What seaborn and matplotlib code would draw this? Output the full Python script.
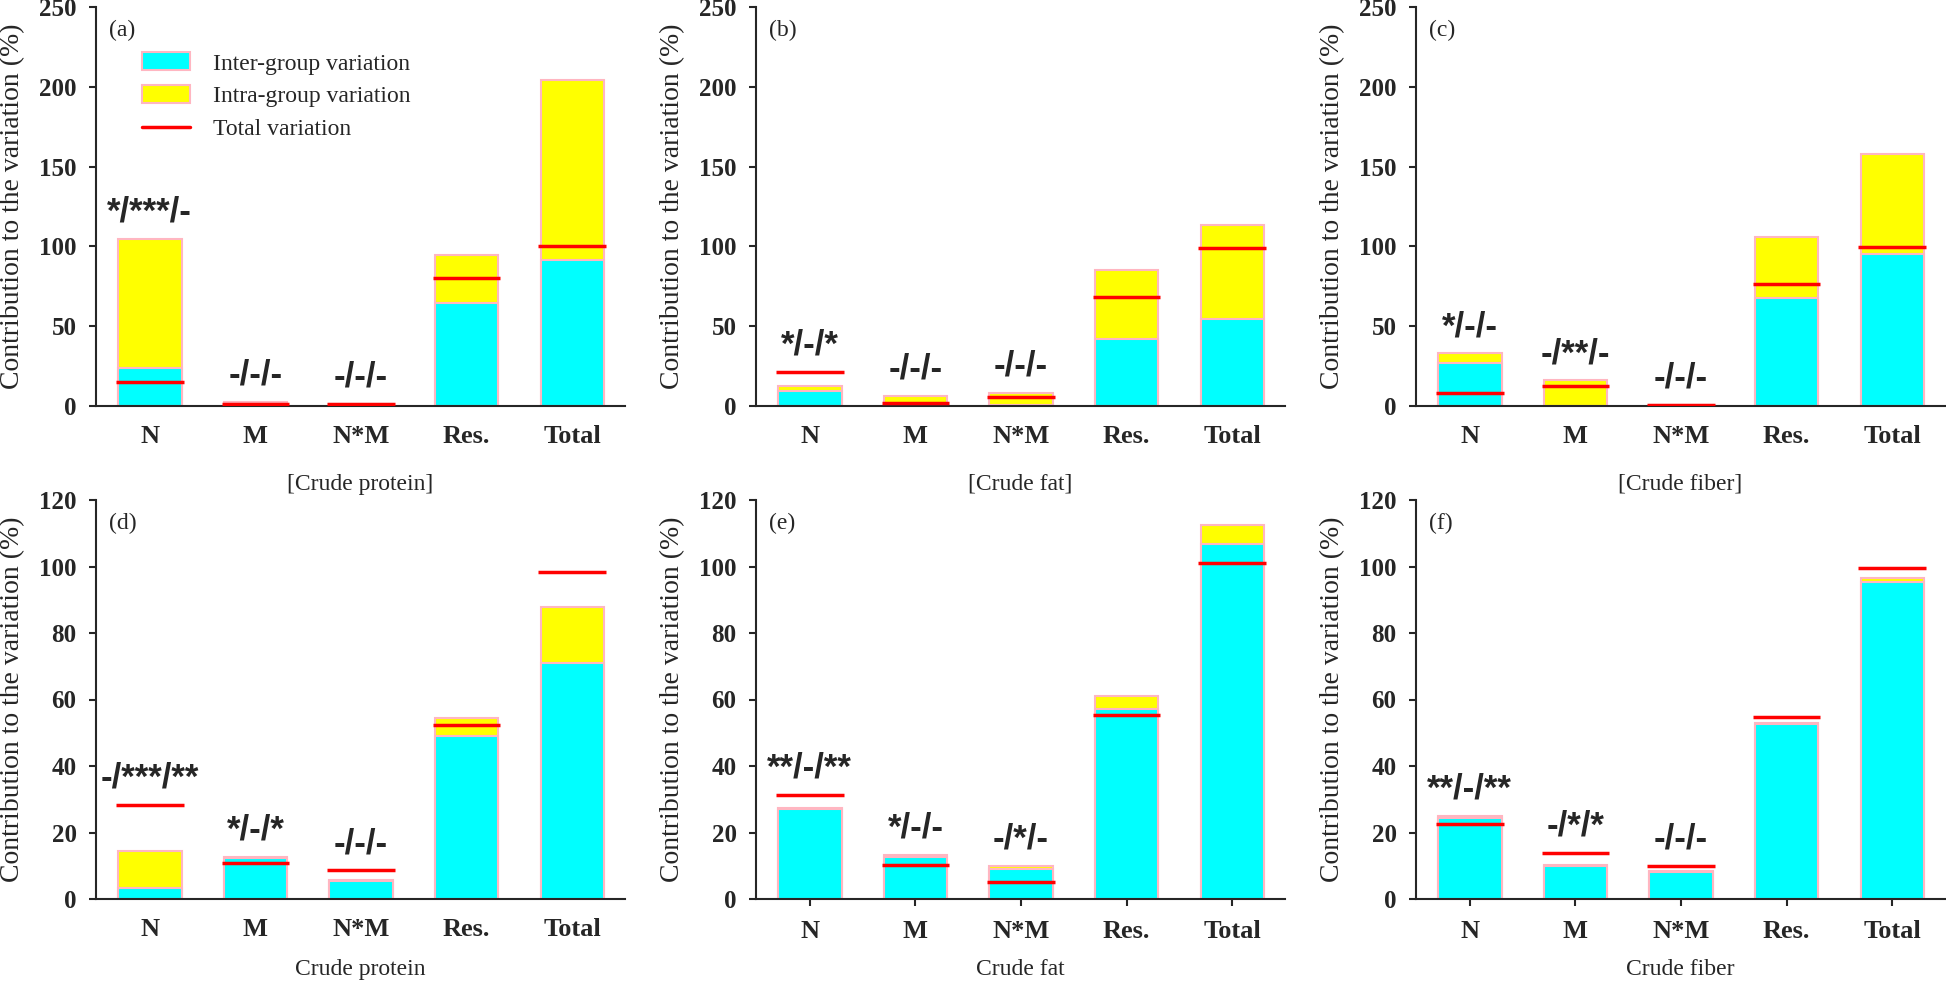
import numpy as np
import pandas as pd
import seaborn as sns
import matplotlib.pyplot as plt
from matplotlib.patches import Patch
from matplotlib.lines import Line2D

# categories on the x axis
cats = ['N', 'M', 'N*M', 'Res.', 'Total']

# inter-group part (cyan), top of the stacked bar (yellow), total variation (red line)
inter_a = [23.6, 0.3, 0.3, 64.4, 91.6]
top_a = [104.5, 2.7, 1.2, 94.5, 204.0]
red_a = [15.3, 1.5, 1.0, 80.3, 100.3]

inter_b = [9.2, 0.3, 0.5, 42.2, 54.3]
top_b = [12.5, 6.5, 8.4, 84.9, 113.5]
red_b = [21.5, 1.7, 5.9, 68.1, 98.9]

inter_c = [27.2, 0.3, 0.3, 67.7, 95.3]
top_c = [33.0, 16.1, 0.8, 106.0, 157.6]
red_c = [8.2, 12.5, 0.6, 76.5, 99.5]

inter_d = [3.4, 12.2, 5.4, 49.0, 71.0]
top_d = [14.5, 12.6, 5.8, 54.5, 87.9]
red_d = [28.4, 10.9, 8.6, 52.2, 98.3]

inter_e = [27.2, 12.6, 8.9, 57.0, 106.7]
top_e = [27.5, 13.2, 10.0, 61.1, 112.5]
red_e = [31.4, 10.3, 5.2, 55.3, 101.1]

inter_f = [24.5, 9.9, 8.1, 52.5, 95.3]
top_f = [24.9, 10.2, 8.3, 53.0, 96.6]
red_f = [22.7, 13.8, 10.0, 54.7, 99.4]

# significance labels for N, M, N*M
sig_a = ['*/***/-', '-/-/-', '-/-/-']
sig_b = ['*/-/*', '-/-/-', '-/-/-']
sig_c = ['*/-/-', '-/**/-', '-/-/-']
sig_d = ['-/***/**', '*/-/*', '-/-/-']
sig_e = ['**/-/**', '*/-/-', '-/*/-']
sig_f = ['**/-/**', '-/*/*', '-/-/-']

letters = ['(a)', '(b)', '(c)', '(d)', '(e)', '(f)']
xlabels = ['[Crude protein]', '[Crude fat]', '[Crude fiber]',
           'Crude protein', 'Crude fat', 'Crude fiber']

CYAN = '#00FFFF'
YELLOW = '#FFFF00'
RED = '#FF0000'
PINK = '#FFB6C1'

sns.set_style('ticks')
plt.rcParams['font.family'] = ['Liberation Serif', 'DejaVu Serif']


def draw_panel(ax, inter, top, red, sig, ymax, step, letter, xlabel, xticks_marks):
    df = pd.DataFrame({'cat': cats, 'inter': inter, 'top': top})
    sns.barplot(data=df, x='cat', y='top', order=cats, color=YELLOW, width=0.6,
                edgecolor=PINK, linewidth=1.5, saturation=1, errorbar=None, ax=ax)
    sns.barplot(data=df, x='cat', y='inter', order=cats, color=CYAN, width=0.6,
                edgecolor=PINK, linewidth=1.5, saturation=1, errorbar=None, ax=ax)
    pos = np.arange(len(cats))
    ax.hlines(red, pos - 0.32, pos + 0.32, color=RED, linewidth=2.5, zorder=5)

    for i, s in enumerate(sig):
        y = max(top[i], red[i]) + 0.067 * ymax
        ax.text(pos[i], y, s, ha='center', va='center', fontsize=25,
                fontweight='bold', family='Liberation Sans')

    ax.set_xlim(-0.51, 4.5)
    ax.set_ylim(0, ymax)
    ax.set_yticks(np.arange(0, ymax + 1, step))
    ax.tick_params(axis='y', direction='out', length=5, width=1.5, labelsize=18, pad=9)
    ax.tick_params(axis='x', length=5 if xticks_marks else 0, width=1.5,
                   labelsize=19, pad=10 if xticks_marks else 14)
    for lab in ax.get_xticklabels() + ax.get_yticklabels():
        lab.set_fontweight('bold')
    sns.despine(ax=ax)
    ax.spines['left'].set_linewidth(1.5)
    ax.spines['bottom'].set_linewidth(1.5)

    ax.set_ylabel('Contribution to the variation (%)', fontsize=20)
    ax.yaxis.set_label_coords(-0.134, 0.5)
    ax.set_xlabel(xlabel, fontsize=17)
    ax.text(0.025, 0.94, letter, transform=ax.transAxes, fontsize=17,
            ha='left', va='center')


fig = plt.figure(figsize=(19.46, 9.85), dpi=100)
lefts = [96 / 1946, 756 / 1946, 1416 / 1946]
w = 529 / 1946
h = 399 / 985
rows = [1 - 406 / 985, 1 - 899 / 985]

panels = [
    (inter_a, top_a, red_a, sig_a, 250, 50),
    (inter_b, top_b, red_b, sig_b, 250, 50),
    (inter_c, top_c, red_c, sig_c, 250, 50),
    (inter_d, top_d, red_d, sig_d, 120, 20),
    (inter_e, top_e, red_e, sig_e, 120, 20),
    (inter_f, top_f, red_f, sig_f, 120, 20),
]

axes = []
for k, (inter, top, red, sig, ymax, step) in enumerate(panels):
    r, c = divmod(k, 3)
    ax = fig.add_axes([lefts[c], rows[r], w, h])
    draw_panel(ax, inter, top, red, sig, ymax, step, letters[k], xlabels[k], k >= 4)
    if r == 0:
        ax.xaxis.set_label_coords(0.5, -0.17)
    else:
        ax.xaxis.set_label_coords(0.5, -0.15)
    axes.append(ax)

handles = [Patch(facecolor=CYAN, edgecolor=PINK, linewidth=1.5),
           Patch(facecolor=YELLOW, edgecolor=PINK, linewidth=1.5),
           Line2D([0], [0], color=RED, linewidth=2.5)]
axes[0].legend(handles, ['Inter-group variation', 'Intra-group variation', 'Total variation'],
               loc='upper left', bbox_to_anchor=(0.07, 0.91), frameon=False,
               fontsize=17, handlelength=2.0, handleheight=0.8, labelspacing=0.45,
               handletextpad=1.0, borderaxespad=0)

fig.savefig('out.png', dpi=100)
